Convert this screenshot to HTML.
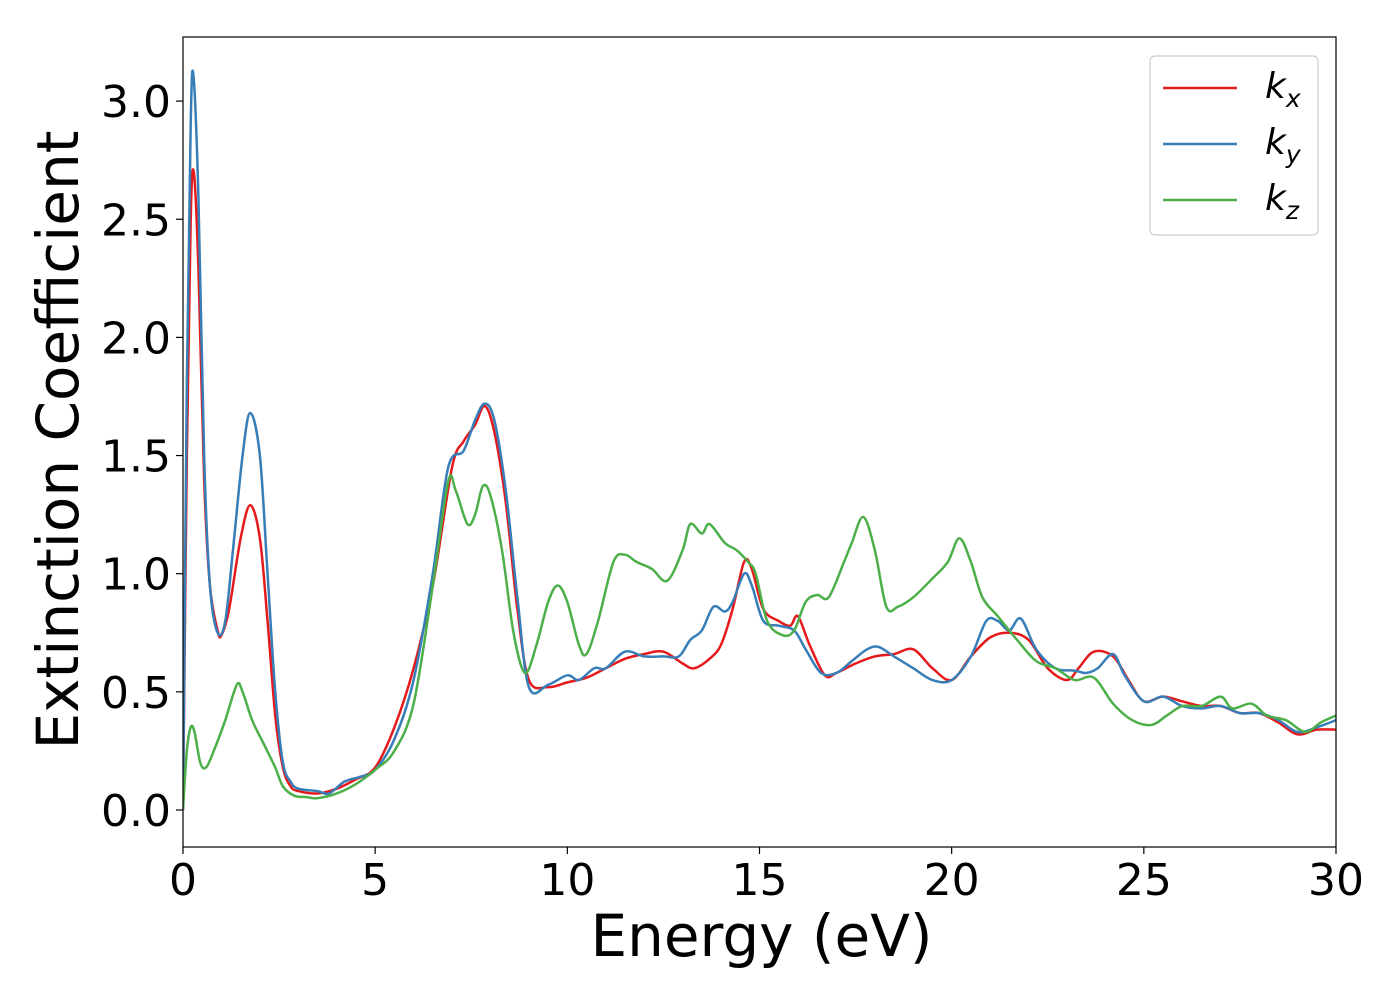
<!DOCTYPE html>
<html><head><meta charset="utf-8"><style>
body{margin:0;background:#fff;}
svg text{font-family:"DejaVu Sans","Liberation Sans",sans-serif;fill:#000;}
</style></head><body>
<svg id="chart" width="1400" height="1000" xmlns="http://www.w3.org/2000/svg">
<g id="plot"></g>
</svg>
<script>
const xTicks=[0,5,10,15,20,25,30];
const yTicks=[0.0,0.5,1.0,1.5,2.0,2.5,3.0];
const kxE=[0,0.1,0.2,0.28,0.4,0.55,0.7,0.9,1.0,1.2,1.5,1.75,2.0,2.2,2.4,2.6,2.8,3.0,3.5,4,4.5,5,5.5,6,6.5,7,7.3,7.6,7.85,8.1,8.4,8.7,9.0,9.5,10,10.5,11,11.5,12,12.5,13,13.3,13.7,14,14.3,14.6,14.8,15.1,15.5,15.8,16,16.3,16.7,17,17.5,18,18.5,19,19.5,20,20.5,21,21.5,22,22.5,23,23.3,23.7,24.2,24.6,25,25.5,26,26.5,27,27.5,28,28.5,29,29.5,30];
const kxV=[0,1.5,2.5,2.7,2.3,1.4,0.95,0.76,0.74,0.85,1.15,1.29,1.15,0.8,0.4,0.18,0.1,0.08,0.07,0.09,0.13,0.18,0.35,0.6,0.95,1.45,1.56,1.63,1.71,1.6,1.3,0.85,0.55,0.52,0.54,0.56,0.6,0.64,0.66,0.67,0.62,0.6,0.64,0.7,0.85,1.05,1.02,0.85,0.8,0.78,0.82,0.7,0.57,0.58,0.62,0.65,0.66,0.68,0.6,0.55,0.65,0.73,0.75,0.72,0.6,0.55,0.6,0.67,0.65,0.55,0.46,0.48,0.46,0.44,0.44,0.41,0.41,0.37,0.32,0.34,0.34];
const kyE=[0,0.1,0.2,0.27,0.4,0.55,0.7,0.9,1.1,1.3,1.55,1.75,2.0,2.2,2.4,2.6,2.8,3,3.5,3.8,4.2,4.6,5,5.5,6,6.5,6.9,7.3,7.6,7.85,8.1,8.4,8.7,9,9.5,10,10.3,10.7,11,11.5,12,12.5,12.9,13.2,13.5,13.8,14.1,14.3,14.6,14.8,15.1,15.5,15.9,16.2,16.6,17,17.4,17.8,18.1,18.5,19,19.5,20,20.5,20.9,21.2,21.5,21.8,22.2,22.7,23.2,23.5,23.8,24.2,24.5,25,25.5,26,26.5,27,27.5,28,28.5,29,29.5,30];
const kyV=[0,1.8,2.9,3.11,2.6,1.5,0.95,0.75,0.8,1.1,1.5,1.68,1.5,1.0,0.5,0.2,0.12,0.09,0.08,0.07,0.12,0.14,0.17,0.3,0.55,1.0,1.45,1.52,1.65,1.72,1.65,1.35,0.9,0.52,0.53,0.57,0.55,0.6,0.6,0.67,0.65,0.65,0.65,0.72,0.76,0.86,0.84,0.88,1.0,0.95,0.8,0.78,0.76,0.68,0.58,0.58,0.63,0.68,0.69,0.65,0.6,0.55,0.55,0.65,0.8,0.8,0.76,0.81,0.68,0.6,0.59,0.58,0.6,0.66,0.57,0.46,0.48,0.44,0.43,0.44,0.41,0.41,0.38,0.33,0.35,0.38];
const kzE=[0,0.1,0.2,0.3,0.45,0.6,0.8,1.1,1.4,1.55,1.8,2.1,2.4,2.6,2.9,3.2,3.5,4,4.5,5,5.5,6,6.5,6.9,7.1,7.4,7.6,7.8,8.0,8.3,8.6,8.9,9.2,9.5,9.75,10,10.3,10.5,10.8,11.2,11.5,11.8,12.2,12.6,13,13.2,13.5,13.7,14.1,14.4,14.7,14.9,15.2,15.6,15.9,16.2,16.5,16.8,17.2,17.4,17.7,18,18.3,18.6,19,19.5,19.9,20.2,20.5,20.8,21.2,21.7,22.2,22.7,23.2,23.7,24.2,24.7,25.2,25.6,26,26.5,27,27.3,27.8,28.2,28.7,29.2,29.6,30];
const kzV=[0,0.25,0.35,0.33,0.2,0.18,0.25,0.38,0.53,0.5,0.38,0.28,0.18,0.1,0.06,0.055,0.05,0.07,0.11,0.17,0.25,0.45,0.95,1.39,1.35,1.21,1.25,1.37,1.33,1.1,0.75,0.58,0.7,0.88,0.95,0.88,0.7,0.66,0.8,1.05,1.08,1.05,1.02,0.97,1.1,1.21,1.17,1.21,1.13,1.1,1.05,1.0,0.8,0.74,0.76,0.88,0.91,0.9,1.05,1.13,1.24,1.1,0.86,0.86,0.9,0.98,1.05,1.15,1.05,0.9,0.82,0.72,0.63,0.6,0.55,0.56,0.45,0.38,0.36,0.4,0.44,0.44,0.48,0.43,0.45,0.4,0.38,0.33,0.37,0.4];

const L=183,R=1336,T=37,B=847;
const X=v=>L+(v-0)/(30-0)*(R-L);
const Y=v=>810-v*236.3;
const NS="http://www.w3.org/2000/svg";
const g=document.getElementById('plot');
function mk(t,a){const e=document.createElementNS(NS,t);for(const k in a)e.setAttribute(k,a[k]);g.appendChild(e);return e;}
function pathFor(E,V){
  const p=E.map((e,i)=>[X(e),Y(V[i])]);
  let d=`M${p[0][0]},${p[0][1]}`;
  for(let i=0;i<p.length-1;i++){
    const p0=p[Math.max(0,i-1)],p1=p[i],p2=p[i+1],p3=p[Math.min(p.length-1,i+2)];
    const c1=[p1[0]+(p2[0]-p0[0])/6,p1[1]+(p2[1]-p0[1])/6];
    const c2=[p2[0]-(p3[0]-p1[0])/6,p2[1]-(p3[1]-p1[1])/6];
    d+=`C${c1[0]},${c1[1]} ${c2[0]},${c2[1]} ${p2[0]},${p2[1]}`;
  }
  return d;
}
const clip=mk('clipPath',{id:'pc'});
const cr=document.createElementNS(NS,'rect');cr.setAttribute('x',L);cr.setAttribute('y',T);cr.setAttribute('width',R-L);cr.setAttribute('height',B-T);clip.appendChild(cr);
const series=[[kxE,kxV,'#e41a1c','kx-line'],[kyE,kyV,'#377eb8','ky-line'],[kzE,kzV,'#4daf4a','kz-line']];
series.forEach(s=>{
  const p=mk('path',{d:pathFor(s[0],s[1]),fill:'none',stroke:s[2],'stroke-width':2.5,'clip-path':'url(#pc)'});
  
  
});
const frame=mk('rect',{x:L,y:T,width:R-L,height:B-T,fill:'none',stroke:'#000','stroke-width':1.2});


xTicks.forEach(t=>{
  const l=mk('line',{x1:X(t),x2:X(t),y1:B,y2:B+7,stroke:'#000','stroke-width':1.2});
  
  
  const tx=mk('text',{x:X(t),y:B+48,'font-size':44,'text-anchor':'middle'});tx.textContent=t;
  
  
});
yTicks.forEach(t=>{
  const l=mk('line',{x1:L-7,x2:L,y1:Y(t),y2:Y(t),stroke:'#000','stroke-width':1.2});
  
  
  const tx=mk('text',{x:L-12,y:Y(t)+16,'font-size':44,'text-anchor':'end'});tx.textContent=t.toFixed(1);
  
  
});
const xl=mk('text',{x:(L+R)/2+2,y:956,'font-size':58,'text-anchor':'middle'});xl.textContent='Energy (eV)';


const yl=mk('text',{x:0,y:0,'font-size':58,'text-anchor':'middle',transform:`translate(78,${(T+B)/2-2}) rotate(-90)`});yl.textContent='Extinction Coefficient';


const lb=mk('rect',{x:1150,y:56,width:168,height:179,rx:5,fill:'#fff',stroke:'#ccc','stroke-width':1.2});


const subs=['x','y','z'];
series.forEach((s,i)=>{
  const y=88+i*56;
  const l=mk('line',{x1:1163,x2:1237,y1:y,y2:y,stroke:s[2],'stroke-width':2.5});
  
  
  const t=mk('text',{x:1265,y:y+10,'font-size':36,'font-style':'italic'});
  t.innerHTML='k<tspan font-size="25" dy="9">'+subs[i]+'</tspan>';
  
  
});
</script>
</body></html>
